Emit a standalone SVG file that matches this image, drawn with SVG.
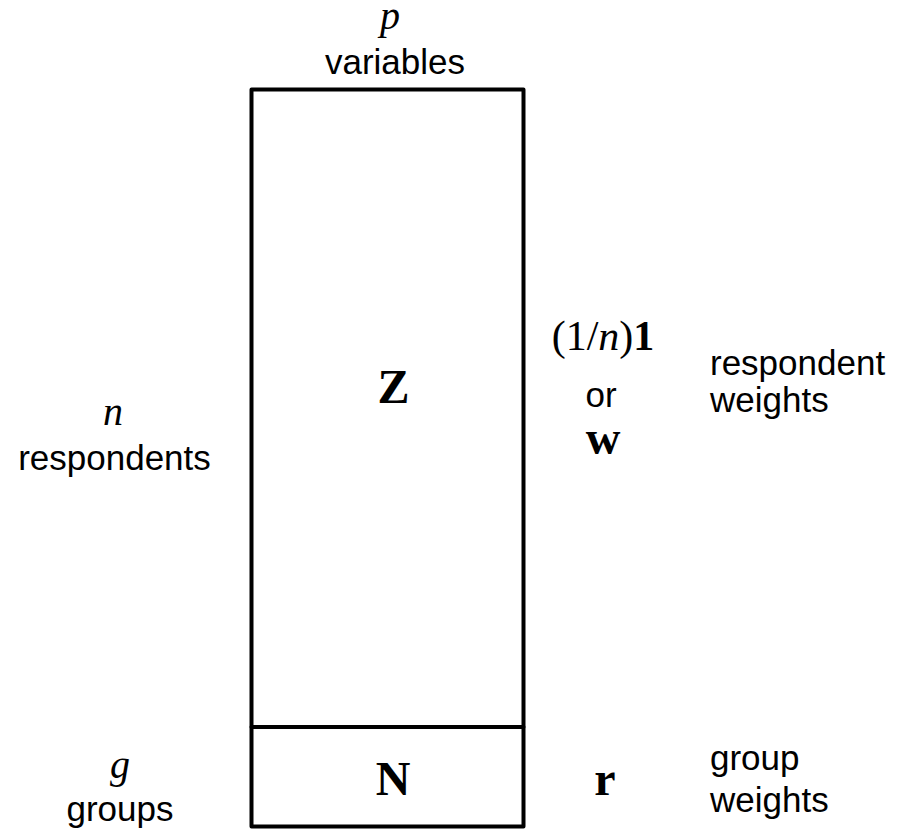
<svg xmlns="http://www.w3.org/2000/svg" width="897" height="832" viewBox="0 0 897 832">
<style>
.sans{font-family:"Liberation Sans",Arial,sans-serif;font-size:35px;fill:#000}
.it{font-family:"Liberation Serif","Times New Roman",serif;font-style:italic;font-size:40px;fill:#000}
.bold{font-family:"Liberation Serif","Times New Roman",serif;font-weight:bold;font-size:48px;fill:#000}
.serif{font-family:"Liberation Serif","Times New Roman",serif;font-size:42px;fill:#000}
.box{fill:#fff;stroke:#000;stroke-width:4;stroke-linejoin:round}
.mid{text-anchor:middle}
</style>
<rect width="897" height="832" fill="#fff"/>
<g id="Z-matrix">
<rect class="box" x="251.5" y="89.5" width="272" height="637.5"/>
<text class="bold mid" x="393.5" y="403">Z</text>
</g>
<g id="N-matrix">
<rect class="box" x="251.5" y="727" width="272" height="99.5"/>
<text class="bold mid" x="393" y="795">N</text>
</g>
<g id="connectors"/>
<g id="label-p">
<text class="it mid" x="390" y="29">p</text>
<text class="sans mid" x="395" y="74">variables</text>
</g>
<g id="label-n">
<text class="it mid" x="113" y="425">n</text>
<text class="sans mid" x="114.5" y="470">respondents</text>
</g>
<g id="label-g">
<text class="it mid" x="120" y="778">g</text>
<text class="sans mid" x="120" y="821">groups</text>
</g>
<g id="respondent-weight-vector">
<text class="serif mid" x="603" y="350">(1/<tspan font-style="italic">n</tspan>)<tspan font-weight="bold">1</tspan></text>
<text class="sans mid" x="601" y="407">or</text>
<text class="bold mid" x="603" y="454">w</text>
</g>
<g id="group-weight-vector">
<text class="bold mid" x="605" y="795">r</text>
</g>
<g id="label-respondent-weights">
<text class="sans" x="710" y="375">respondent</text>
<text class="sans" x="710" y="412">weights</text>
</g>
<g id="label-group-weights">
<text class="sans" x="710" y="770">group</text>
<text class="sans" x="710" y="812">weights</text>
</g>
</svg>
